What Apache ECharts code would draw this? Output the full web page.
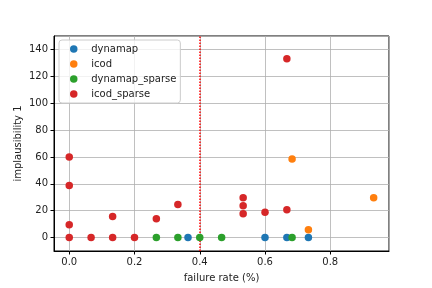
<!DOCTYPE html>
<html><head><meta charset="utf-8">
<script src="https://cdn.jsdelivr.net/npm/echarts@6/dist/echarts.min.js"></script>
<style>html,body{margin:0;padding:0;background:#fff}#c{width:432px;height:288px}</style>
</head><body><div id="c"></div>
<script>
const seriesNames = ['dynamap', 'icod', 'dynamap_sparse', 'icod_sparse'];
const colors = ['#1f77b4', '#ff7f0e', '#2ca02c', '#d62728'];
const dynamapX = [0.364, 0.6, 0.667, 0.733];
const dynamapY = [0, 0, 0, 0];
const icodX = [0.683, 0.733, 0.933];
const icodY = [58.5, 5.9, 29.6];
const dynamapSparseX = [0.267, 0.333, 0.4, 0.467, 0.683];
const dynamapSparseY = [0, 0, 0, 0, 0];
const icodSparseX = [0, 0, 0, 0, 0.067, 0.133, 0.133, 0.2, 0.267, 0.333, 0.533, 0.533, 0.533, 0.6, 0.667, 0.667];
const icodSparseY = [60, 38.7, 9.6, 0, 0, 0, 15.7, 0, 14, 24.6, 29.6, 23.7, 17.8, 18.9, 20.7, 133];
const thresholdX = 0.4;
const xAxisName = 'failure rate (%)';
const yAxisName = 'implausibility 1';

const xs = [dynamapX, icodX, dynamapSparseX, icodSparseX];
const ys = [dynamapY, icodY, dynamapSparseY, icodSparseY];
const font = 'DejaVu Sans';

const series = seriesNames.map((n, i) => ({
  name: n,
  type: 'scatter',
  symbolSize: 7.5,
  itemStyle: { color: colors[i], opacity: 1 },
  data: xs[i].map((x, j) => [x, ys[i][j]]),
  z: 3 + i
}));
series[3].markLine = {
  silent: true,
  symbol: 'none',
  label: { show: false },
  lineStyle: { color: '#ff0000', type: 'dotted', width: 1.5 },
  data: [{ xAxis: thresholdX }]
};

const chart = echarts.init(document.getElementById('c'), null, { renderer: 'canvas' });
chart.setOption({
  animation: false,
  textStyle: { fontFamily: font },
  grid: { left: 54, right: 43, top: 36, bottom: 37, show: true, borderColor: '#000', borderWidth: 1, backgroundColor: 'transparent' },
  legend: {
    orient: 'vertical', left: 59, top: 40,
    data: seriesNames,
    icon: 'circle', itemWidth: 25, itemHeight: 7.5, itemGap: 3,
    padding: [3, 4, 3, 11],
    borderColor: '#cccccc', borderWidth: 1, borderRadius: 3,
    backgroundColor: 'rgba(255,255,255,0.8)',
    textStyle: { fontFamily: font, fontSize: 10, color: '#222', lineHeight: 12, padding: [0, 0, 0, 0] }
  },
  xAxis: {
    type: 'value', min: -0.0467, max: 0.98, splitNumber: 5,
    name: xAxisName, nameLocation: 'middle', nameGap: 22,
    nameTextStyle: { fontFamily: font, fontSize: 10, color: '#222' },
    axisLine: { show: true, onZero: false, lineStyle: { color: '#000', width: 1 } },
    axisTick: { show: true, length: 3.5, lineStyle: { color: '#000' } },
    axisLabel: { fontFamily: font, fontSize: 10, color: '#222', margin: 6, showMinLabel: false, showMaxLabel: false,
      formatter: v => v.toFixed(1) },
    splitLine: { show: true, lineStyle: { color: '#b0b0b0', width: 0.8 } }
  },
  yAxis: {
    type: 'value', min: -10, max: 150, splitNumber: 8,
    name: yAxisName, nameLocation: 'middle', nameGap: 31, nameRotate: 90, nameMoveOverlap: false,
    nameTextStyle: { fontFamily: font, fontSize: 10, color: '#222' },
    axisLine: { show: true, onZero: false, lineStyle: { color: '#000', width: 1 } },
    axisTick: { show: true, length: 3.5, lineStyle: { color: '#000' } },
    axisLabel: { fontFamily: font, fontSize: 10, color: '#222', margin: 6, showMinLabel: false, showMaxLabel: false },
    splitLine: { show: true, lineStyle: { color: '#b0b0b0', width: 0.8 } }
  },
  series: series
});
</script></body></html>
